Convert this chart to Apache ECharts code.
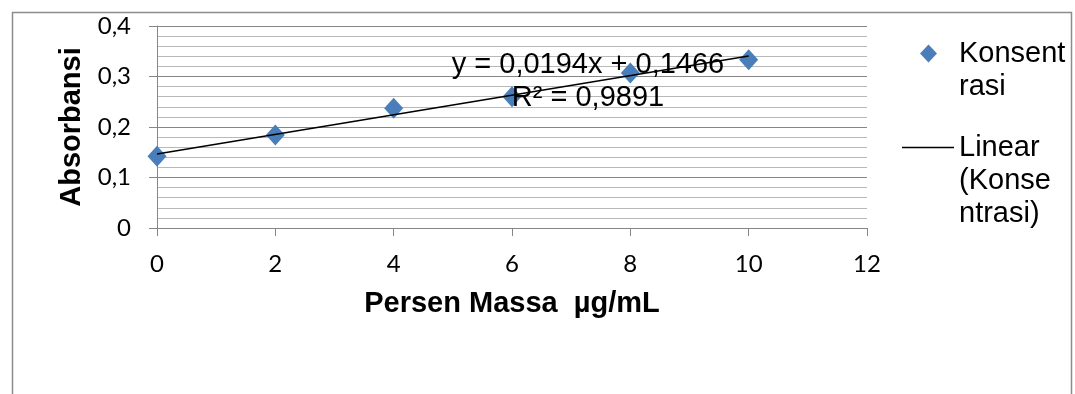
<!DOCTYPE html>
<html>
<head>
<meta charset="utf-8">
<script src="https://cdn.jsdelivr.net/npm/echarts@6/dist/echarts.min.js"></script>
<style>
html,body{margin:0;padding:0;background:#fff;}
#chart{width:1075px;height:394px;}
</style>
</head>
<body>
<div id="chart"></div>
<script>
// ---- data ----
const xValues = [0, 2, 4, 6, 8, 10];
const absorbansi = [0.142, 0.184, 0.237, 0.260, 0.307, 0.333];
const trendX = [0, 10];
const trendY = [0.1466, 0.3406];
const seriesName = 'Konsentrasi';
const trendName = 'Linear (Konsentrasi)';
const legendLabels = ['\nKonsent\nrasi', '\n\nLinear\n(Konse\nntrasi)'];
const equationLines = ['y = 0,0194x + 0,1466', 'R² = 0,9891'];
const xTitle = 'Persen Massa  µg/mL';
const yTitle = 'Absorbansi';

const chart = echarts.init(document.getElementById('chart'), null, {renderer: 'canvas'});

const scatterData = xValues.map((x, i) => [x, absorbansi[i]]);
const trendData = trendX.map((x, i) => [x, trendY[i]]);

const tickFont = 'Lato, "Noto Sans", sans-serif';
const arial = '"Liberation Sans", Arial, sans-serif';

const option = {
  backgroundColor: '#ffffff',
  animation: false,
  grid: {left: 157, top: 26, width: 710, height: 202, containLabel: false},
  xAxis: {
    type: 'value', min: 0, max: 12, interval: 2,
    name: xTitle, nameLocation: 'middle', nameGap: 61,
    nameTextStyle: {fontFamily: arial, fontWeight: 'bold', fontSize: 29, color: '#000'},
    axisLine: {show: true, onZero: false, lineStyle: {color: '#868686', width: 1}},
    axisTick: {show: true, inside: false, length: 8, lineStyle: {color: '#868686'}},
    axisLabel: {fontFamily: tickFont, fontSize: 24, color: '#000', margin: 24},
    splitLine: {show: false}
  },
  yAxis: {
    type: 'value', min: 0, max: 0.4, interval: 0.1,
    name: yTitle, nameLocation: 'middle', nameGap: 60, nameRotate: 90,
    nameTextStyle: {fontFamily: arial, fontWeight: 'bold', fontSize: 29, color: '#000'},
    axisLine: {show: true, lineStyle: {color: '#868686', width: 1}},
    axisTick: {show: true, inside: false, length: 8, lineStyle: {color: '#868686'}},
    axisLabel: {fontFamily: tickFont, fontSize: 24, color: '#000', margin: 26,
      formatter: v => v === 0 ? '0' : v.toFixed(1).replace('.', ',')},
    splitLine: {show: true, lineStyle: {color: '#868686', width: 1}},
    minorTick: {show: false, splitNumber: 5},
    minorSplitLine: {show: true, lineStyle: {color: '#b8b8b8', width: 1}}
  },
  legend: [
    {
      data: [{name: seriesName, icon: 'diamond', textStyle: {padding: [0, 0, 0, 17]}}],
      orient: 'vertical', left: 920, top: 4, padding: 0,
      itemWidth: 17, itemHeight: 18, itemGap: 0,
      formatter: () => legendLabels[0],
      textStyle: {fontFamily: arial, fontSize: 29, lineHeight: 33, color: '#000'}
    },
    {
      data: [{name: trendName, icon: 'rect'}],
      orient: 'vertical', left: 902, top: 65, padding: 0,
      itemWidth: 52, itemHeight: 1.5, itemGap: 0,
      formatter: () => legendLabels[1],
      textStyle: {fontFamily: arial, fontSize: 29, lineHeight: 33, color: '#000'}
    }
  ],
  series: [
    {
      name: seriesName, type: 'scatter', data: scatterData,
      symbol: 'diamond', symbolSize: [19, 21],
      itemStyle: {color: '#4a7ebb', opacity: 1}, z: 2
    },
    {
      name: trendName, type: 'line', data: trendData,
      symbol: 'none', showSymbol: false,
      lineStyle: {color: '#000', width: 1.5}, itemStyle: {color: '#000'}, z: 3
    }
  ],
  graphic: [
    {type: 'rect', left: 10, top: 10, shape: {width: 1059, height: 400}, z: -10,
      style: {fill: 'none', stroke: '#8c8c8c', lineWidth: 1.5}},
    {type: 'text', x: 588, y: 65, z: 100,
      style: {text: equationLines[0], font: '29px ' + arial, fill: '#000', align: 'center', verticalAlign: 'middle'}},
    {type: 'text', x: 588, y: 98, z: 100,
      style: {text: equationLines[1], font: '29px ' + arial, fill: '#000', align: 'center', verticalAlign: 'middle'}}
  ]
};
chart.setOption(option);
</script>
</body>
</html>
